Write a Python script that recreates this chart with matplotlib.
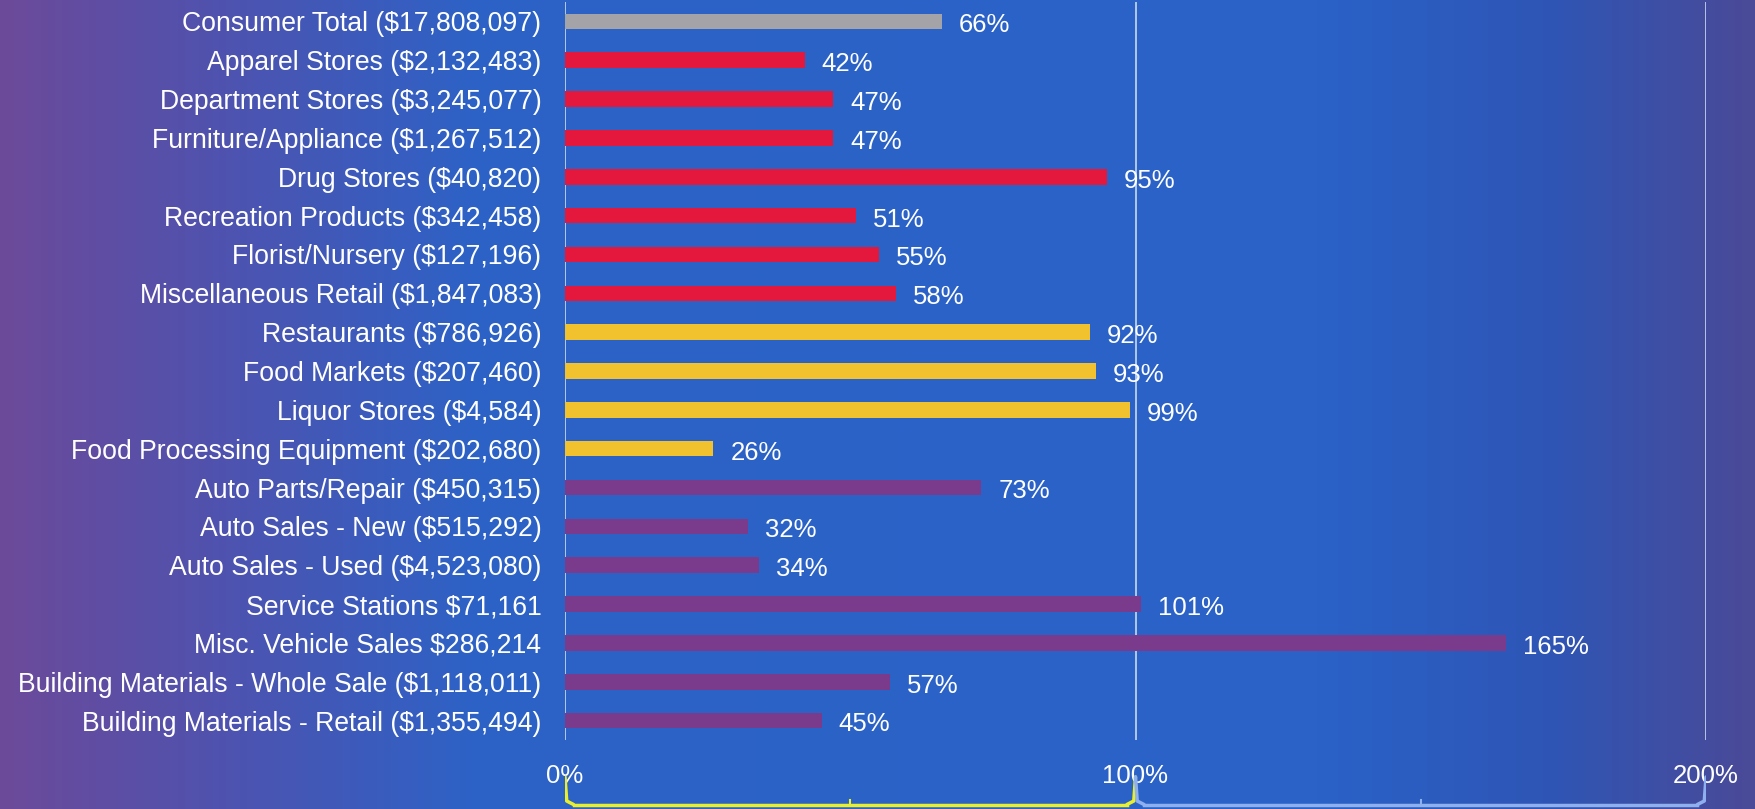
import matplotlib
matplotlib.use("Agg")
import matplotlib.pyplot as plt
from matplotlib.colors import LinearSegmentedColormap
import numpy as np

categories = [
    "Consumer Total ($17,808,097)",
    "Apparel Stores ($2,132,483)",
    "Department Stores ($3,245,077)",
    "Furniture/Appliance ($1,267,512)",
    "Drug Stores ($40,820)",
    "Recreation Products ($342,458)",
    "Florist/Nursery ($127,196)",
    "Miscellaneous Retail ($1,847,083)",
    "Restaurants ($786,926)",
    "Food Markets ($207,460)",
    "Liquor Stores ($4,584)",
    "Food Processing Equipment ($202,680)",
    "Auto Parts/Repair ($450,315)",
    "Auto Sales - New ($515,292)",
    "Auto Sales - Used ($4,523,080)",
    "Service Stations $71,161",
    "Misc. Vehicle Sales $286,214",
    "Building Materials - Whole Sale ($1,118,011)",
    "Building Materials - Retail ($1,355,494)",
]
values = [66, 42, 47, 47, 95, 51, 55, 58, 92, 93, 99, 26, 73, 32, 34, 101, 165, 57, 45]
groups = ["total"] + ["retail"] * 7 + ["food"] * 4 + ["auto"] * 5 + ["building"] * 2
group_colors = {"total": "#a3a3a8", "retail": "#e4173c", "food": "#f2c12e",
                "auto": "#7b3b8c", "building": "#7b3b8c"}
xticks = [0, 100, 200]

W, H = 1756, 809
FS = 18.5
fig = plt.figure(figsize=(W / 100, H / 100), dpi=100)

# background gradient
bg = fig.add_axes([0, 0, 1, 1])
cmap = LinearSegmentedColormap.from_list("bg", [
    (0.0, "#6c4a9a"), (0.12, "#5052ae"), (0.27, "#2d62c6"),
    (0.75, "#2a62c8"), (0.88, "#2e56b6"), (1.0, "#4a4a98")])
grad = np.linspace(0, 1, 512).reshape(1, -1)
bg.imshow(grad, aspect="auto", cmap=cmap, extent=[0, 1, 0, 1])
bg.set_xlim(0, 1)
bg.set_ylim(0, 1)
bg.axis("off")

ax = fig.add_axes([565 / W, 1 - 740 / H, (1706 - 565) / W, 738 / H])
ax.patch.set_alpha(0)
y = np.arange(len(categories))
ax.barh(y, values, height=0.4, color=[group_colors[g] for g in groups], zorder=2)
for yi, v in zip(y, values):
    ax.text(v + 3, yi + 0.1, f"{v}%", va="center", ha="left", color="white",
            fontsize=FS, family="Liberation Sans", zorder=3)
for t in xticks:
    ax.axvline(t, color="#c9d9f2", lw=1.2, zorder=1)
ax.set_xlim(0, 200)
ax.set_ylim(len(categories) - 0.5, -0.5)
ax.set_yticks(y)
ax.set_yticklabels(categories, family="Liberation Sans", fontsize=19.2, color="white")
ax.tick_params(axis="y", length=0, pad=17)
ax.set_xticks(xticks)
ax.set_xticklabels([f"{t}%" for t in xticks], family="Liberation Sans", fontsize=FS,
                   color="white")
ax.tick_params(axis="x", length=0, pad=17)
for s in ax.spines.values():
    s.set_visible(False)

# bottom brackets
bx = fig.add_axes([565 / W, 0, (1706 - 565) / W, 40 / H])
bx.set_xlim(0, 200)
bx.set_ylim(0, 40)
bx.axis("off")
for x0, x1, col in [(0, 100, "#e9ef2a"), (100, 200, "#8fb0ee")]:
    bx.plot([x0, x0 + 0.3, x0 + 1.5], [32, 8, 4.5], color=col, lw=2.5, solid_capstyle="round")
    bx.plot([x0 + 1.5, x1 - 1.5], [4.5, 4.5], color=col, lw=2.5)
    bx.plot([x1 - 1.5, x1 - 0.3, x1], [4.5, 8, 32], color=col, lw=2.5, solid_capstyle="round")
    mid = (x0 + x1) / 2
    bx.plot([mid, mid], [4.5, 9], color=col, lw=1.5)

fig.savefig("out.png", dpi=100)
